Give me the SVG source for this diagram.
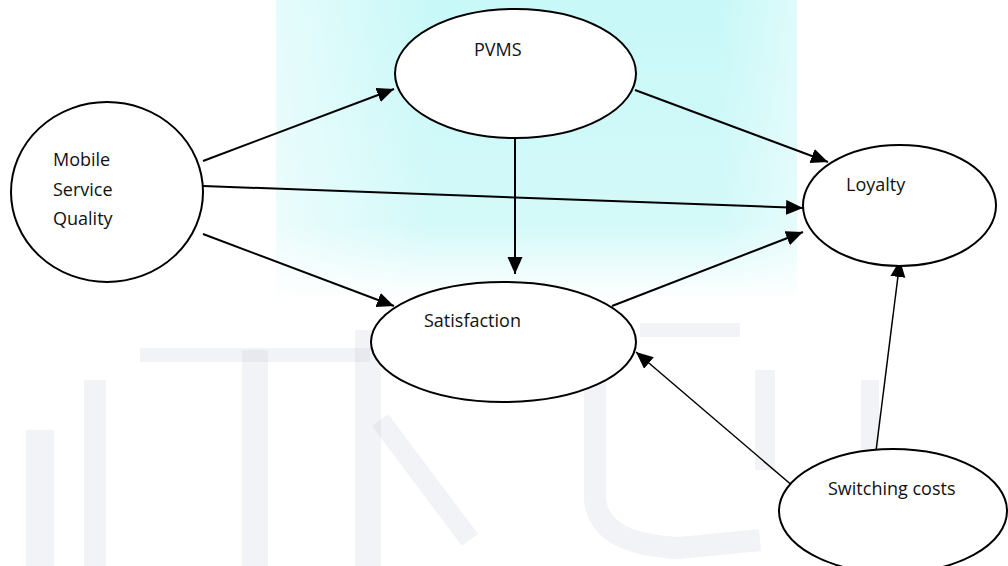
<svg xmlns="http://www.w3.org/2000/svg" width="1008" height="566" viewBox="0 0 1008 566">
  <style>
    .node ellipse { fill: #ffffff; stroke: #000000; stroke-width: 2; }
    .node text { font-family: "Open Sans", "Liberation Sans", sans-serif; font-size: 18px; fill: #111111; }
    .edge { stroke: #000000; stroke-width: 2; fill: none; marker-end: url(#arrow); }
    .thin { stroke-width: 1.5; }
    .wm { stroke: #c4c8d4; stroke-opacity: 0.22; fill: none; stroke-linecap: butt; }
  </style>
  <defs>
    <marker id="arrow" markerUnits="userSpaceOnUse" markerWidth="18" markerHeight="16" refX="17" refY="7.5" orient="auto">
      <path d="M0,0 L17,7.5 L0,15 z" fill="#000000"/>
    </marker>
    <linearGradient id="cyan" x1="0" y1="0" x2="0" y2="1">
      <stop offset="0" stop-color="#c8f8f8"/>
      <stop offset="0.75" stop-color="#d4f9f9"/>
      <stop offset="1" stop-color="#ffffff"/>
    </linearGradient>
    <linearGradient id="cyanh" x1="0" y1="0" x2="1" y2="0">
      <stop offset="0" stop-color="#ffffff" stop-opacity="0.55"/>
      <stop offset="0.3" stop-color="#ffffff" stop-opacity="0"/>
      <stop offset="0.85" stop-color="#ffffff" stop-opacity="0"/>
      <stop offset="1" stop-color="#ffffff" stop-opacity="0.4"/>
    </linearGradient>
  </defs>

  <rect x="0" y="0" width="1008" height="566" fill="#ffffff"/>
  <g id="watermark">
    <rect x="276" y="0" width="521" height="300" fill="url(#cyan)"/>
    <rect x="276" y="0" width="521" height="300" fill="url(#cyanh)"/>
    <path class="wm" stroke-width="28" d="M40,430 L40,566"/>
    <path class="wm" stroke-width="22" d="M95,380 L95,566"/>
    <path class="wm" stroke-width="14" d="M140,355 L370,355"/>
    <path class="wm" stroke-width="26" d="M255,350 L255,566"/>
    <path class="wm" stroke-width="26" d="M368,330 L368,566"/>
    <path class="wm" stroke-width="20" d="M380,420 L470,540"/>
    <path class="wm" stroke-width="22" d="M595,340 L595,500 Q600,545 680,548 L760,540"/>
    <path class="wm" stroke-width="14" d="M640,330 L740,330"/>
    <path class="wm" stroke-width="20" d="M765,370 L765,470"/>
    <path class="wm" stroke-width="18" d="M870,380 L870,500"/>
  </g>

  <g id="connectors">
    <line class="edge" x1="203" y1="161" x2="394" y2="89"/>
    <line class="edge" x1="203" y1="186" x2="803" y2="208"/>
    <line class="edge" x1="203" y1="234" x2="394" y2="306"/>
    <line class="edge" x1="515" y1="128" x2="515" y2="274"/>
    <line class="edge" x1="635" y1="90" x2="828" y2="162"/>
    <line class="edge" x1="612" y1="306" x2="803" y2="232"/>
    <line class="edge thin" x1="794" y1="487" x2="636" y2="352"/>
    <line class="edge thin" x1="876" y1="451" x2="900" y2="260"/>
  </g>

  <g id="node-msq" class="node">
    <ellipse cx="107" cy="192" rx="96" ry="90"/>
    <text x="53" y="166">Mobile</text>
    <text x="53" y="196">Service</text>
    <text x="53" y="225">Quality</text>
  </g>
  <g id="node-pvms" class="node">
    <ellipse cx="515.5" cy="73.5" rx="120.5" ry="64.5"/>
    <text x="474" y="56">PVMS</text>
  </g>
  <g id="node-satisfaction" class="node">
    <ellipse cx="503.5" cy="342" rx="132.5" ry="60"/>
    <text x="424" y="327">Satisfaction</text>
  </g>
  <g id="node-loyalty" class="node">
    <ellipse cx="899.5" cy="205.5" rx="96.5" ry="60.5"/>
    <text x="846" y="191">Loyalty</text>
  </g>
  <g id="node-switching" class="node">
    <ellipse cx="893" cy="511" rx="114" ry="62"/>
    <text x="828" y="495">Switching costs</text>
  </g>
</svg>
